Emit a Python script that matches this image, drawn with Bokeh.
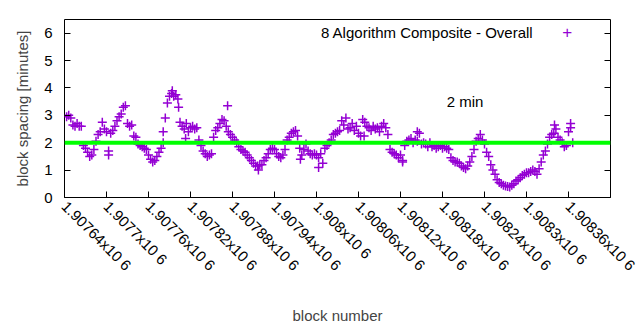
import math
from bokeh.plotting import figure
from bokeh.models import (Range1d, FixedTicker, LinearAxis, Span, Label, ColumnDataSource)
from bokeh.embed import file_html
from bokeh.resources import INLINE

# ---- data ----
first_block = 1907643
block_step = 3
spacing = [
    2.95, 3.0, 2.9, 2.65, 2.6, 2.7, 2.6, 2.6, 1.9, 1.8,
    1.65, 1.5, 1.55, 1.75, 2.05, 2.3, 2.4, 2.75, 2.5, 2.4,
    1.7, 2.35, 2.45, 2.6, 2.8, 2.95, 3.05, 3.3, 3.35, 2.7,
    2.6, 2.65, 2.25, 2.2, 1.95, 1.9, 1.85, 1.8, 1.75, 1.55,
    1.4, 1.3, 1.35, 1.5, 1.65, 1.8, 2.0, 2.9, 3.45, 3.7,
    3.8, 3.7, 3.75, 3.6, 2.75, 2.6, 2.5, 2.7, 2.4, 2.55,
    2.6, 2.5, 2.55, 2.1, 1.9, 1.7, 1.6, 1.5, 1.55, 1.6,
    2.2, 2.45, 2.55, 2.7, 2.85, 2.8, 2.6, 2.4, 2.3, 2.2,
    2.1, 2.0, 1.85, 1.75, 1.7, 1.65, 1.55, 1.45, 1.35, 1.25,
    1.15, 1.15, 1.2, 1.2, 1.35, 1.45, 1.6, 1.75, 1.8, 1.75,
    1.6, 1.5, 1.45, 1.55, 1.75, 2.1, 2.2, 2.35, 2.4, 2.45,
    2.25, 1.8, 1.55, 1.75, 1.95, 1.7, 1.6, 1.55, 1.6, 1.55,
    1.45, 1.6, 1.25, 1.8, 1.9, 2.0, 2.1, 2.3, 2.35, 2.4,
    2.45, 2.8, 2.65, 2.9, 2.5, 2.55, 2.7, 2.45, 2.6, 2.35,
    2.25, 2.85, 2.75, 2.6, 2.55, 2.45, 2.6, 2.5, 2.55, 2.4,
    2.6, 2.7, 2.55, 2.3, 1.75, 1.65, 1.6, 1.55, 1.45, 1.55,
    1.35, 1.9, 2.05, 2.1, 2.15, 2.0, 2.1, 2.05, 2.35, 1.95,
    2.0, 1.95, 1.85, 2.0, 1.85, 1.9, 1.8, 1.85, 1.9, 1.8,
    1.85, 1.8, 1.75, 1.45, 1.35, 1.3, 1.3, 1.25, 1.15, 1.1,
    1.05, 1.15, 1.3, 1.5, 1.75, 2.05, 2.15, 2.3, 2.1, 1.95,
    1.65, 1.5, 1.2, 1.0, 0.85, 0.65, 0.55, 0.5, 0.45, 0.42,
    0.4, 0.38, 0.45, 0.5, 0.6, 0.65, 0.72, 0.8, 0.85, 0.9,
    0.9, 0.95, 1.0, 0.95, 0.85, 1.05, 1.3, 1.55, 1.7, 1.95,
    2.2, 2.3, 2.35, 2.5, 2.2, 2.1, 2.0, 1.85, 1.9, 2.4, 2.55, 2.0,
]
blocks = [first_block + block_step * i for i in range(len(spacing))]

extra_blocks = [1907703, 1907781, 1907794, 1907803, 1907813, 1907873, 1907917,
                1907977, 1908003, 1908068, 1908123, 1908144, 1908340, 1908363]
extra_spacing = [1.55, 2.4, 3.9, 3.3, 2.15, 3.35, 1.0,
                 1.4, 1.1, 2.25, 1.3, 2.4, 2.65, 2.7]

target_minutes = 2
x_ticks = [1907640 + 60 * k for k in range(14)]
x_tick_labels = ["1.90764x10 6", "1.9077x10 6", "1.90776x10 6", "1.90782x10 6",
                 "1.90788x10 6", "1.90794x10 6", "1.908x10 6", "1.90806x10 6",
                 "1.90812x10 6", "1.90818x10 6", "1.90824x10 6", "1.9083x10 6",
                 "1.90836x10 6", "1.90842x10 6"]
y_ticks = [0, 1, 2, 3, 4, 5, 6]
series_name = "8 Algorithm Composite - Overall"
note_text = "2 min"
note_block = 1908186
note_value = 3.5
key_block = 1908310
key_marker_block = 1908358
key_value = 6.04

FONT = "Liberation Sans"
PURPLE = "#9400d3"
X0, X1, Y0, Y1 = 1907640, 1908420, 0, 6.5

p = figure(width=640, height=330, output_backend="svg", toolbar_location=None,
           x_range=Range1d(X0, X1), y_range=Range1d(Y0, Y1),
           min_border_left=64, min_border_right=30, min_border_top=19,
           min_border_bottom=133)
p.grid.visible = False
p.outline_line_color = "black"
p.outline_line_width = 1
p.background_fill_color = "white"
p.border_fill_color = "white"

src = ColumnDataSource(dict(x=blocks + extra_blocks, y=spacing + extra_spacing))
p.scatter("x", "y", source=src, marker="cross", size=9, line_width=1.5,
          line_color=PURPLE)

p.add_layout(Span(location=target_minutes, dimension="width",
                  line_color="#00ff00", line_width=4))

# axes
xa = p.xaxis[0]
xa.ticker = FixedTicker(ticks=x_ticks)
overrides = {t: l for t, l in zip(x_ticks, x_tick_labels)}
overrides[x_ticks[-1]] = ""
xa.major_label_overrides = overrides
xa.major_label_orientation = -math.pi / 4
xa.major_tick_in = 6
xa.major_tick_out = 0
xa.minor_tick_line_color = None
xa.axis_line_color = None
xa.major_label_text_font = FONT
xa.major_label_text_font_size = "15px"
xa.major_label_text_color = "black"
xa.major_label_standoff = 6
xa.axis_label = "block number"
xa.axis_label_text_font = FONT
xa.axis_label_text_font_size = "15px"
xa.axis_label_text_font_style = "normal"
xa.axis_label_standoff = 24

ya = p.yaxis[0]
ya.ticker = FixedTicker(ticks=y_ticks)
ya.major_tick_in = 6
ya.major_tick_out = 0
ya.minor_tick_line_color = None
ya.axis_line_color = None
ya.major_label_text_font = FONT
ya.major_label_text_font_size = "15px"
ya.major_label_text_color = "black"
ya.major_label_standoff = 12
ya.axis_label = "block spacing [minutes]"
ya.axis_label_text_font = FONT
ya.axis_label_text_font_size = "15px"
ya.axis_label_text_font_style = "normal"
ya.axis_label_standoff = 10

ra = LinearAxis(ticker=FixedTicker(ticks=y_ticks), major_tick_in=6, major_tick_out=0,
                minor_tick_line_color=None, axis_line_color=None,
                major_label_overrides={t: "" for t in y_ticks}, major_label_standoff=0)
p.add_layout(ra, "right")

# last x tick label: free label in canvas units at the frame's right end,
# running off the page edge like the reference
p.add_layout(Label(x=610, y=203, x_units="canvas", y_units="canvas",
                   text=x_tick_labels[-1], angle=-math.pi / 4,
                   text_font=FONT, text_font_size="15px", text_align="left",
                   text_baseline="middle", text_color="black"))

# key and note
p.add_layout(Label(x=key_block, y=key_value, text=series_name,
                   text_font=FONT, text_font_size="15px", text_align="right",
                   text_baseline="middle", text_color="black"))
p.add_layout(Label(x=key_marker_block, y=key_value, text="+",
                   text_font=FONT, text_font_size="17px", text_align="center",
                   text_baseline="middle", text_color=PURPLE))
p.add_layout(Label(x=note_block, y=note_value, text=note_text, text_font=FONT,
                   text_font_size="15px", text_align="left", text_baseline="middle",
                   text_color="black"))

open("out.html", "w").write(file_html(p, INLINE))
